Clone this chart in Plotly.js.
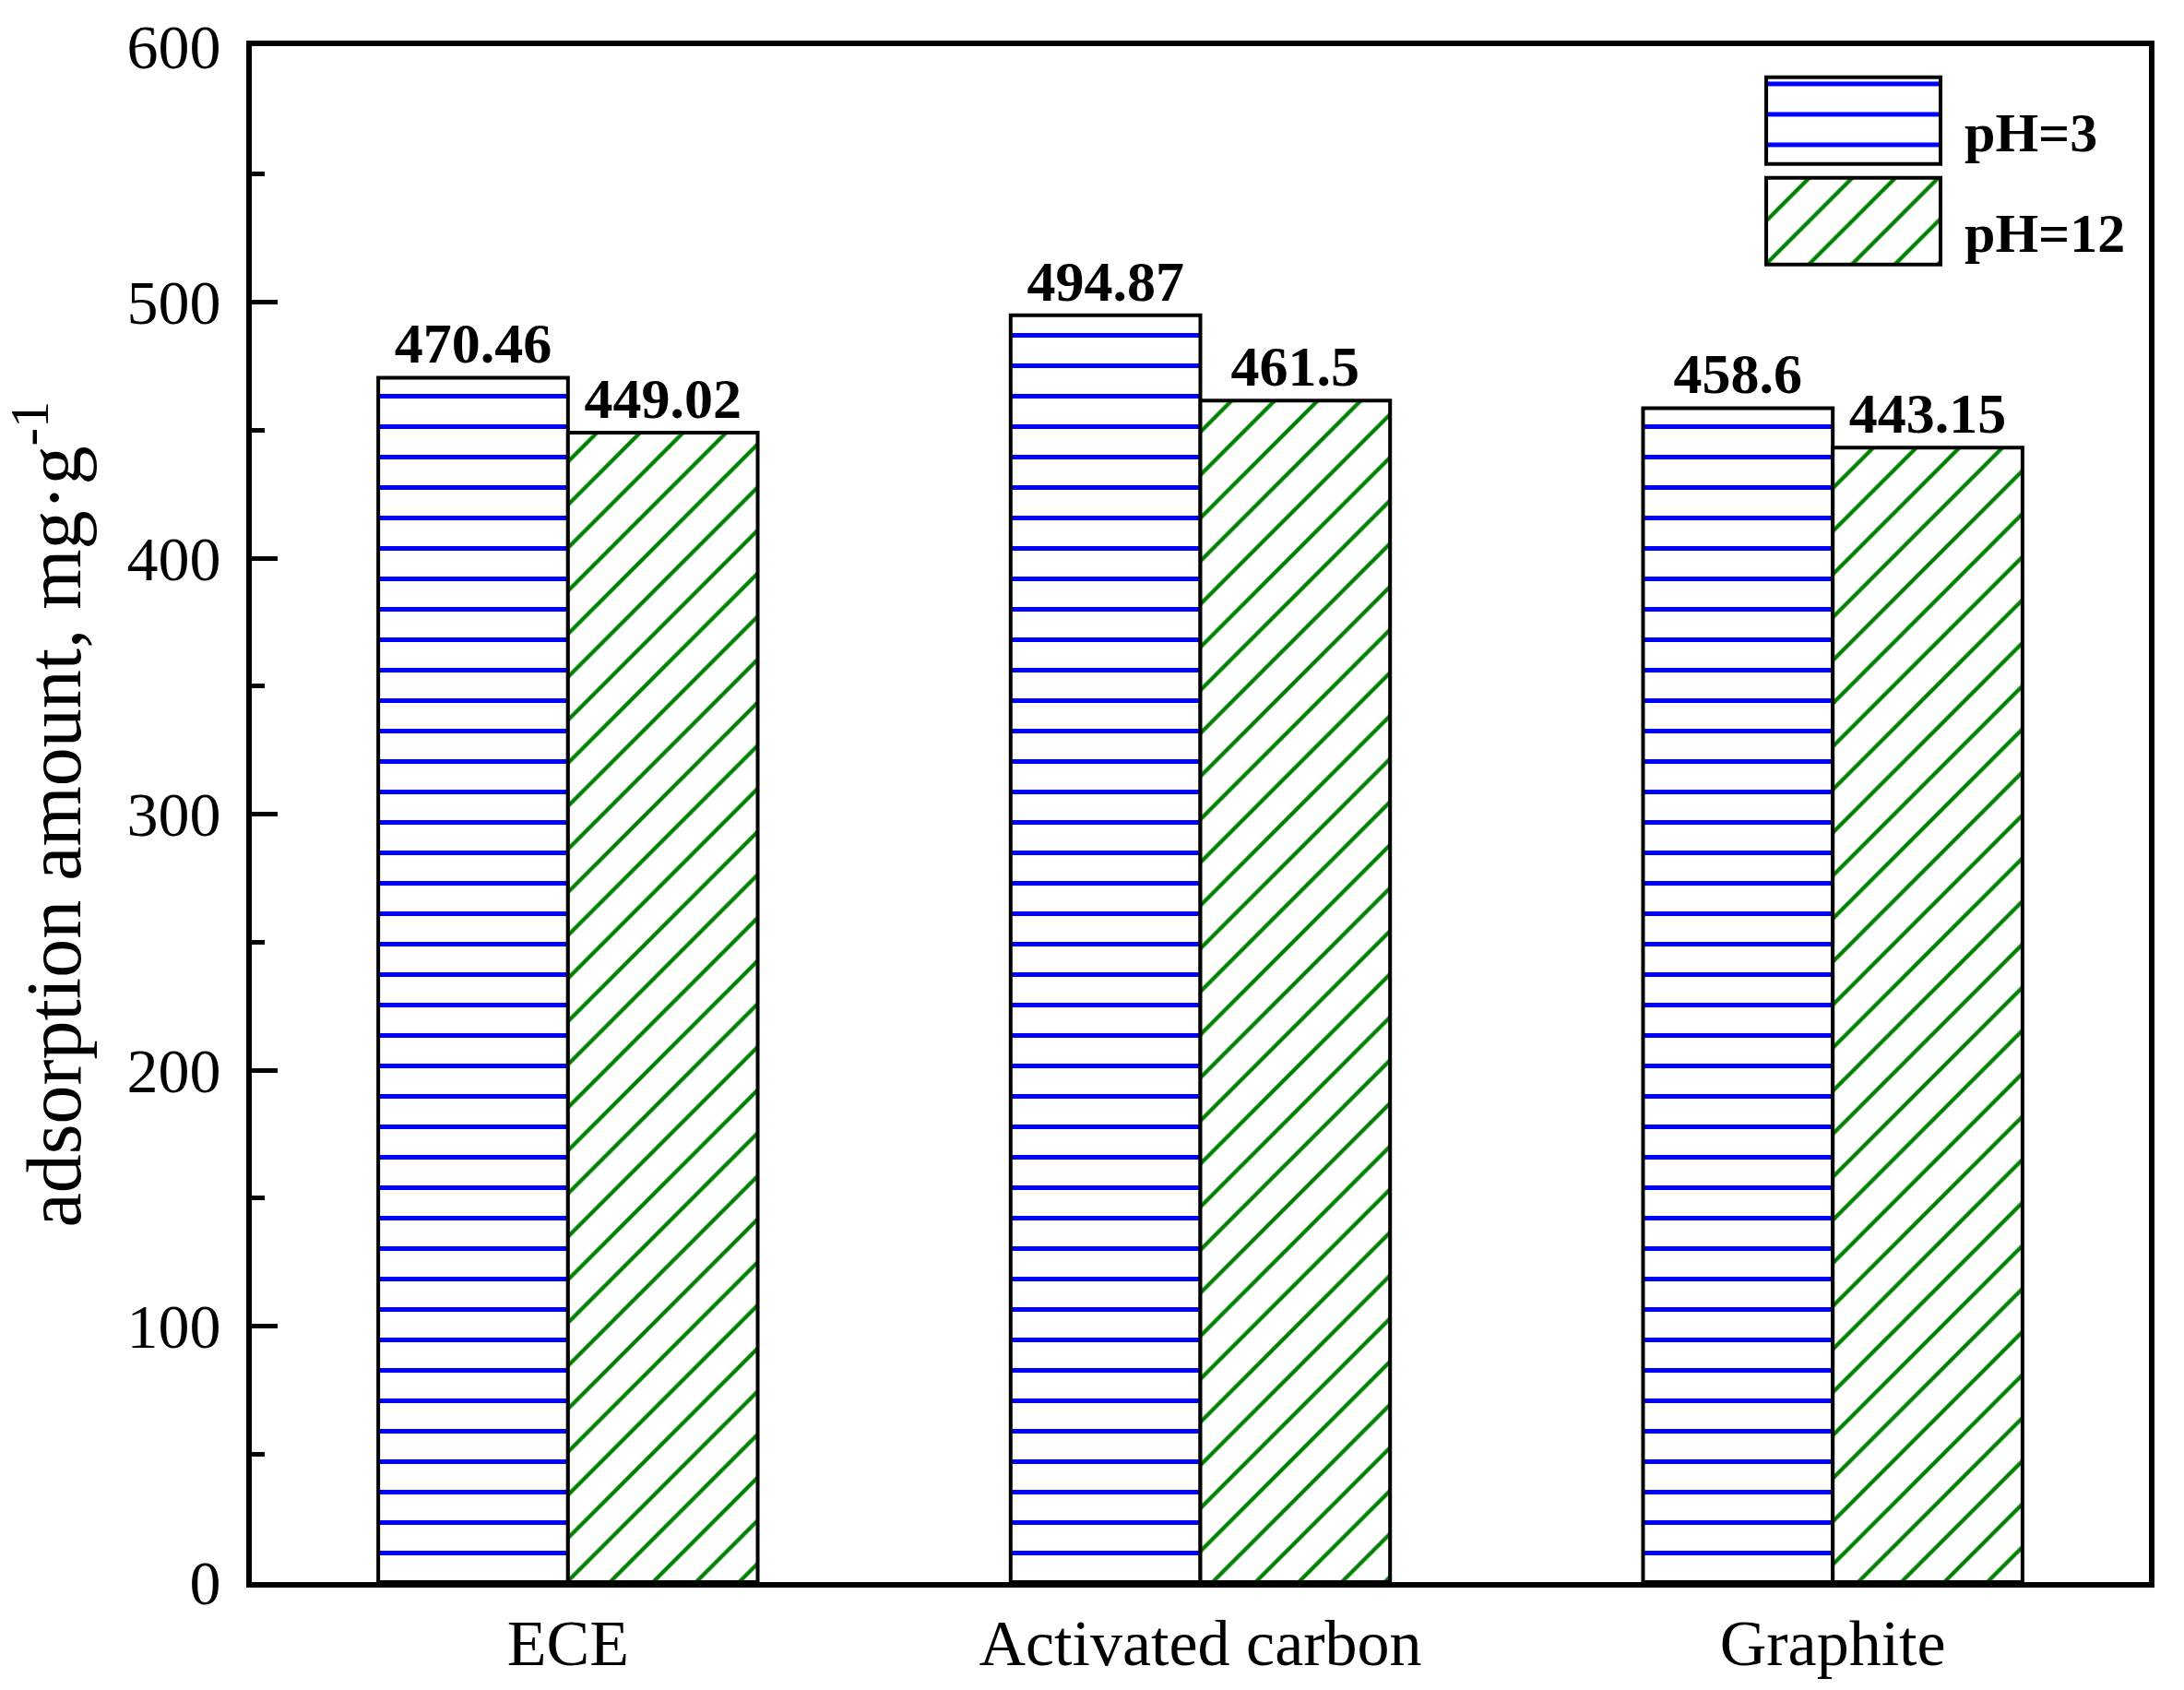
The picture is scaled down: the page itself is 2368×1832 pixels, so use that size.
<!DOCTYPE html>
<html>
<head>
<meta charset="utf-8">
<script src="https://cdn.plot.ly/plotly-3.0.1.min.js"></script>
<style>html,body{margin:0;padding:0;background:#fff;}</style>
</head>
<body>
<div id="chart" style="width:2368px;height:1832px;"></div>
<script>
const categories = ['ECE', 'Activated carbon', 'Graphite'];
const seriesNames = ['pH=3', 'pH=12'];
const ph3Values = [470.46, 494.87, 458.6];
const ph12Values = [449.02, 461.5, 443.15];
const yTitle = 'adsorption amount, mg·g<sup>-1</sup>';

const FONT = 'Liberation Serif, Times New Roman, serif';

const traces = [
  {
    type: 'bar', name: seriesNames[0], x: categories, y: ph3Values,
    text: ph3Values.map(String), textposition: 'outside', constraintext: 'none', cliponaxis: false,
    textfont: {family: FONT, size: 62, color: 'black', weight: 'bold'},
    marker: {color: 'white', line: {color: 'black', width: 4},
      pattern: {shape: '-', fgcolor: '#0000ff', bgcolor: 'white', size: 33, solidity: 0.15, fillmode: 'replace'}},
    legendgroup: 'a', hoverinfo: 'skip'
  },
  {
    type: 'bar', name: seriesNames[1], x: categories, y: ph12Values,
    text: ph12Values.map(String), textposition: 'outside', constraintext: 'none', cliponaxis: false,
    textfont: {family: FONT, size: 62, color: 'black', weight: 'bold'},
    marker: {color: 'white', line: {color: 'black', width: 4},
      pattern: {shape: '/', fgcolor: '#008000', bgcolor: 'white', size: 33, solidity: 0.13, fillmode: 'replace'}},
    legendgroup: 'b', hoverinfo: 'skip'
  }
];

const layout = {
  width: 2368, height: 1832,
  margin: {l: 273, r: 38, t: 50, b: 117, pad: 0},
  paper_bgcolor: 'white', plot_bgcolor: 'white',
  font: {family: FONT, color: 'black'},
  barmode: 'group', bargap: 0.4, bargroupgap: 0,
  showlegend: true,
  legend: {
    x: 0.7934, xanchor: 'left', y: 0.973, yanchor: 'top',
    font: {family: FONT, size: 60, color: 'black', weight: 'bold'},
    bgcolor: 'rgba(0,0,0,0)', borderwidth: 0, itemwidth: 215,
    tracegroupgap: 28, traceorder: 'grouped'
  },
  xaxis: {
    type: 'category', range: [-0.5, 2.5],
    showline: true, linewidth: 6, linecolor: 'black', mirror: true,
    ticks: '', showgrid: false, zeroline: false,
    tickfont: {family: FONT, size: 70, color: 'black'},
    ticklabelstandoff: 0
  },
  yaxis: {
    range: [0, 600], tick0: 0, dtick: 100,
    ticks: 'inside', ticklen: 28, tickwidth: 5, tickcolor: 'black',
    minor: {ticks: 'inside', ticklen: 14, tickwidth: 5, tickcolor: 'black', dtick: 50, showgrid: false},
    showline: true, linewidth: 6, linecolor: 'black', mirror: true,
    showgrid: false, zeroline: false,
    tickfont: {family: FONT, size: 68, color: 'black'},
    ticklabelstandoff: 14,
    title: {text: yTitle, font: {family: FONT, size: 84, color: 'black'}, standoff: 30}
  }
};

function fixLegend() {
  const gd = document.getElementById('chart');
  gd.querySelectorAll('.legend [clip-path]').forEach(e => e.removeAttribute('clip-path'));
  const legendTraces = gd.querySelectorAll('.legend .traces');
  const barTraces = gd.querySelectorAll('.barlayer .trace');
  legendTraces.forEach((tr, i) => {
    const path = tr.querySelector('.legendpoints path');
    const text = tr.querySelector('text.legendtext');
    if (!path || !text) return;
    path.removeAttribute('transform');
    const pm = path.getCTM(), tm = tr.getCTM();
    const ox = pm.e - tm.e, oy = pm.f - tm.f;
    const bb = text.getBBox();
    const cy = bb.y + bb.height / 2 - 13;
    const x2 = bb.x - 26, x1 = x2 - 189;
    const y1 = cy - 47, y2 = cy + 47;
    path.setAttribute('d', 'M' + (x1 - ox) + ',' + (y1 - oy) + 'H' + (x2 - ox) + 'V' + (y2 - oy) + 'H' + (x1 - ox) + 'Z');
    const bp = barTraces[i] && barTraces[i].querySelector('.point path');
    if (bp) path.style.fill = bp.style.fill;
    path.style.stroke = 'black';
    path.style.strokeWidth = '4px';
  });
}

Plotly.newPlot('chart', traces, layout, {staticPlot: true, displayModeBar: false}).then(gd => {
  fixLegend();
  gd.on('plotly_afterplot', fixLegend);
});
</script>
</body>
</html>
